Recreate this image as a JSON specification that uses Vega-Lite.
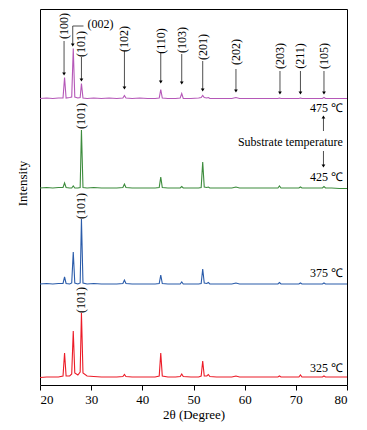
{
  "$schema": "https://vega.github.io/schema/vega-lite/v6.json",
  "width": 307,
  "height": 376,
  "autosize": "none",
  "padding": {"left": 40, "top": 9, "right": 20, "bottom": 45},
  "background": "white",
  "config": {
    "view": {"stroke": "black", "strokeWidth": 1},
    "font": "Liberation Serif"
  },
  "datasets": {
    "xrd": [
      {"s":"475","x":20,"y":286.5},{"s":"475","x":21.3,"y":287},{"s":"475","x":22.5,"y":286.5},{"s":"475","x":23.6,"y":287},{"s":"475","x":24.5,"y":287},{"s":"475","x":24.8,"y":307.5},{"s":"475","x":25.1,"y":287},{"s":"475","x":25.8,"y":287.5},{"s":"475","x":26.2,"y":288},{"s":"475","x":26.5,"y":336.5},{"s":"475","x":26.8,"y":288},{"s":"475","x":27.4,"y":287},{"s":"475","x":27.85,"y":287.5},{"s":"475","x":28.1,"y":301.5},{"s":"475","x":28.4,"y":287},{"s":"475","x":29.2,"y":286.5},{"s":"475","x":30.5,"y":287},{"s":"475","x":32,"y":286.5},{"s":"475","x":33.5,"y":287},{"s":"475","x":35,"y":286.5},{"s":"475","x":36.2,"y":287},{"s":"475","x":36.5,"y":289.5},{"s":"475","x":36.8,"y":287},{"s":"475","x":38,"y":286.5},{"s":"475","x":39.5,"y":287},{"s":"475","x":41,"y":286.5},{"s":"475","x":42.5,"y":286.5},{"s":"475","x":43.3,"y":287},{"s":"475","x":43.6,"y":295.5},{"s":"475","x":43.9,"y":287},{"s":"475","x":45,"y":286.5},{"s":"475","x":46.5,"y":286.5},{"s":"475","x":47.4,"y":287},{"s":"475","x":47.7,"y":291.5},{"s":"475","x":48,"y":286.5},{"s":"475","x":49.5,"y":286.5},{"s":"475","x":51,"y":287},{"s":"475","x":51.5,"y":287.5},{"s":"475","x":51.8,"y":289.5},{"s":"475","x":52.1,"y":287.5},{"s":"475","x":52.6,"y":287},{"s":"475","x":52.9,"y":287.5},{"s":"475","x":53.2,"y":286.5},{"s":"475","x":54.5,"y":286.5},{"s":"475","x":56,"y":286.5},{"s":"475","x":57.5,"y":286.5},{"s":"475","x":58.3,"y":287.5},{"s":"475","x":59,"y":286.5},{"s":"475","x":60.5,"y":286.5},{"s":"475","x":62,"y":286.5},{"s":"475","x":63.5,"y":286.5},{"s":"475","x":65,"y":286.5},{"s":"475","x":66.5,"y":286.5},{"s":"475","x":66.8,"y":287},{"s":"475","x":67.1,"y":286.5},{"s":"475","x":68.5,"y":286.5},{"s":"475","x":70,"y":286.5},{"s":"475","x":70.6,"y":286.5},{"s":"475","x":70.9,"y":287},{"s":"475","x":71.2,"y":286.5},{"s":"475","x":72.5,"y":286.5},{"s":"475","x":74,"y":286.5},{"s":"475","x":75.2,"y":286.5},{"s":"475","x":75.5,"y":287.5},{"s":"475","x":75.8,"y":286.5},{"s":"475","x":77,"y":286.5},{"s":"475","x":78.5,"y":286.5},{"s":"475","x":80,"y":286.5},

      {"s":"425","x":20,"y":197},{"s":"425","x":21.3,"y":197.5},{"s":"425","x":22.5,"y":197},{"s":"425","x":23.6,"y":197.5},{"s":"425","x":24.5,"y":197.5},{"s":"425","x":24.8,"y":202},{"s":"425","x":25.1,"y":197.5},{"s":"425","x":25.8,"y":197},{"s":"425","x":26.2,"y":197},{"s":"425","x":26.5,"y":199},{"s":"425","x":26.8,"y":197},{"s":"425","x":27.4,"y":197},{"s":"425","x":27.85,"y":197.5},{"s":"425","x":28.1,"y":255},{"s":"425","x":28.4,"y":197.5},{"s":"425","x":29.2,"y":197},{"s":"425","x":30.5,"y":197.5},{"s":"425","x":32,"y":197},{"s":"425","x":33.5,"y":197},{"s":"425","x":35,"y":197},{"s":"425","x":36.2,"y":197.5},{"s":"425","x":36.5,"y":201},{"s":"425","x":36.8,"y":197.5},{"s":"425","x":38,"y":197},{"s":"425","x":39.5,"y":197},{"s":"425","x":41,"y":197},{"s":"425","x":42.5,"y":197},{"s":"425","x":43.3,"y":197.5},{"s":"425","x":43.6,"y":208},{"s":"425","x":43.9,"y":197.5},{"s":"425","x":45,"y":197},{"s":"425","x":46.5,"y":197},{"s":"425","x":47.4,"y":197},{"s":"425","x":47.7,"y":198.5},{"s":"425","x":48,"y":197},{"s":"425","x":49.5,"y":197},{"s":"425","x":51,"y":197},{"s":"425","x":51.5,"y":197.5},{"s":"425","x":51.8,"y":223},{"s":"425","x":52.1,"y":198},{"s":"425","x":52.6,"y":197.5},{"s":"425","x":52.9,"y":198},{"s":"425","x":53.2,"y":197},{"s":"425","x":54.5,"y":197},{"s":"425","x":56,"y":197},{"s":"425","x":57.5,"y":197},{"s":"425","x":58.3,"y":198},{"s":"425","x":59,"y":197},{"s":"425","x":60.5,"y":197},{"s":"425","x":62,"y":197},{"s":"425","x":63.5,"y":197},{"s":"425","x":65,"y":197},{"s":"425","x":66.5,"y":197},{"s":"425","x":66.8,"y":199},{"s":"425","x":67.1,"y":197},{"s":"425","x":68.5,"y":197},{"s":"425","x":70,"y":197},{"s":"425","x":70.6,"y":197},{"s":"425","x":70.9,"y":198},{"s":"425","x":71.2,"y":197},{"s":"425","x":72.5,"y":197},{"s":"425","x":74,"y":197},{"s":"425","x":75.2,"y":197},{"s":"425","x":75.5,"y":198.5},{"s":"425","x":75.8,"y":197},{"s":"425","x":77,"y":197},{"s":"425","x":78.5,"y":196.5},{"s":"425","x":80,"y":196.5},

      {"s":"375","x":20,"y":101},{"s":"375","x":21.3,"y":101.5},{"s":"375","x":22.5,"y":101},{"s":"375","x":23.6,"y":101.5},{"s":"375","x":24.5,"y":101.5},{"s":"375","x":24.8,"y":108},{"s":"375","x":25.1,"y":101.5},{"s":"375","x":25.8,"y":101},{"s":"375","x":26.2,"y":102},{"s":"375","x":26.5,"y":133},{"s":"375","x":26.8,"y":102},{"s":"375","x":27.4,"y":101},{"s":"375","x":27.85,"y":102},{"s":"375","x":28.1,"y":166},{"s":"375","x":28.4,"y":102},{"s":"375","x":29.2,"y":101},{"s":"375","x":30.5,"y":101.5},{"s":"375","x":32,"y":101},{"s":"375","x":33.5,"y":101},{"s":"375","x":35,"y":101},{"s":"375","x":36.2,"y":101.5},{"s":"375","x":36.5,"y":105},{"s":"375","x":36.8,"y":101.5},{"s":"375","x":38,"y":101},{"s":"375","x":39.5,"y":101},{"s":"375","x":41,"y":101},{"s":"375","x":42.5,"y":101},{"s":"375","x":43.3,"y":101.5},{"s":"375","x":43.6,"y":110},{"s":"375","x":43.9,"y":101.5},{"s":"375","x":45,"y":101},{"s":"375","x":46.5,"y":101},{"s":"375","x":47.4,"y":101},{"s":"375","x":47.7,"y":103},{"s":"375","x":48,"y":101},{"s":"375","x":49.5,"y":101},{"s":"375","x":51,"y":101},{"s":"375","x":51.5,"y":101.5},{"s":"375","x":51.8,"y":116},{"s":"375","x":52.1,"y":102},{"s":"375","x":52.6,"y":101.5},{"s":"375","x":52.9,"y":102.5},{"s":"375","x":53.2,"y":101},{"s":"375","x":54.5,"y":101},{"s":"375","x":56,"y":101},{"s":"375","x":57.5,"y":101},{"s":"375","x":58.3,"y":102},{"s":"375","x":59,"y":101},{"s":"375","x":60.5,"y":101},{"s":"375","x":62,"y":101},{"s":"375","x":63.5,"y":101},{"s":"375","x":65,"y":101},{"s":"375","x":66.5,"y":101},{"s":"375","x":66.8,"y":102.5},{"s":"375","x":67.1,"y":101},{"s":"375","x":68.5,"y":101},{"s":"375","x":70,"y":101},{"s":"375","x":70.6,"y":101},{"s":"375","x":70.9,"y":102},{"s":"375","x":71.2,"y":101},{"s":"375","x":72.5,"y":101},{"s":"375","x":74,"y":101},{"s":"375","x":75.2,"y":101},{"s":"375","x":75.5,"y":102},{"s":"375","x":75.8,"y":101},{"s":"375","x":77,"y":101},{"s":"375","x":78.5,"y":101},{"s":"375","x":80,"y":101},

      {"s":"325","x":20,"y":7.5},{"s":"325","x":21.3,"y":8},{"s":"325","x":22.5,"y":8},{"s":"325","x":23.6,"y":8},{"s":"325","x":24.5,"y":9},{"s":"325","x":24.8,"y":32},{"s":"325","x":25.1,"y":9},{"s":"325","x":25.8,"y":9},{"s":"325","x":26.2,"y":11},{"s":"325","x":26.5,"y":54},{"s":"325","x":26.8,"y":12},{"s":"325","x":27.4,"y":10},{"s":"325","x":27.85,"y":13},{"s":"325","x":28.1,"y":72},{"s":"325","x":28.4,"y":12},{"s":"325","x":29.2,"y":9},{"s":"325","x":30.5,"y":8.5},{"s":"325","x":32,"y":8},{"s":"325","x":33.5,"y":8},{"s":"325","x":35,"y":8},{"s":"325","x":36.2,"y":8.5},{"s":"325","x":36.5,"y":10.5},{"s":"325","x":36.8,"y":8.5},{"s":"325","x":38,"y":8},{"s":"325","x":39.5,"y":8},{"s":"325","x":41,"y":8},{"s":"325","x":42.5,"y":8},{"s":"325","x":43.3,"y":9},{"s":"325","x":43.6,"y":32},{"s":"325","x":43.9,"y":9},{"s":"325","x":45,"y":8},{"s":"325","x":46.5,"y":8},{"s":"325","x":47.4,"y":8.5},{"s":"325","x":47.7,"y":11},{"s":"325","x":48,"y":8.5},{"s":"325","x":49.5,"y":8},{"s":"325","x":51,"y":8},{"s":"325","x":51.5,"y":9},{"s":"325","x":51.8,"y":24},{"s":"325","x":52.1,"y":9},{"s":"325","x":52.6,"y":9},{"s":"325","x":52.9,"y":10.5},{"s":"325","x":53.2,"y":8.5},{"s":"325","x":54.5,"y":8},{"s":"325","x":56,"y":8},{"s":"325","x":57.5,"y":8},{"s":"325","x":58.3,"y":9},{"s":"325","x":59,"y":8},{"s":"325","x":60.5,"y":8},{"s":"325","x":62,"y":8},{"s":"325","x":63.5,"y":8},{"s":"325","x":65,"y":8},{"s":"325","x":66.5,"y":8},{"s":"325","x":66.8,"y":9},{"s":"325","x":67.1,"y":8},{"s":"325","x":68.5,"y":8},{"s":"325","x":70,"y":8},{"s":"325","x":70.6,"y":8},{"s":"325","x":70.9,"y":10},{"s":"325","x":71.2,"y":8},{"s":"325","x":72.5,"y":8},{"s":"325","x":74,"y":8},{"s":"325","x":75.2,"y":8},{"s":"325","x":75.5,"y":9},{"s":"325","x":75.8,"y":8},{"s":"325","x":77,"y":8},{"s":"325","x":78.5,"y":8},{"s":"325","x":80,"y":8}
    ],
    "arrows": [
      {"x":24.7,"x2":24.7,"y":344,"y2":311,"dir":"down"},
      {"x":28.1,"x2":28.1,"y":328,"y2":305,"dir":"down"},
      {"x":26.4,"x2":26.4,"y":359,"y2":340,"dir":"down"},
      {"x":36.5,"x2":36.5,"y":334,"y2":297,"dir":"down"},
      {"x":43.6,"x2":43.6,"y":333,"y2":303,"dir":"down"},
      {"x":47.7,"x2":47.7,"y":331,"y2":302,"dir":"down"},
      {"x":51.8,"x2":51.8,"y":324,"y2":295,"dir":"down"},
      {"x":58.3,"x2":58.3,"y":316,"y2":294,"dir":"down"},
      {"x":66.9,"x2":66.9,"y":314,"y2":292,"dir":"down"},
      {"x":70.9,"x2":70.9,"y":314,"y2":292,"dir":"down"},
      {"x":75.5,"x2":75.5,"y":314,"y2":292,"dir":"down"},
      {"x":75.4,"x2":75.4,"y":254,"y2":268,"dir":"up"},
      {"x":75.4,"x2":75.4,"y":234,"y2":219,"dir":"down"}
    ],
    "bracket": [
      {"x":26.4,"x2":28.5,"y":359,"y2":359}
    ],
    "vlabels": [
      {"t":"(100)","x":24.7,"y":359},
      {"t":"(101)","x":28.1,"y":341},
      {"t":"(102)","x":36.5,"y":346},
      {"t":"(110)","x":43.6,"y":344},
      {"t":"(103)","x":47.7,"y":345},
      {"t":"(201)","x":51.8,"y":338},
      {"t":"(202)","x":58.3,"y":333},
      {"t":"(203)","x":66.9,"y":329},
      {"t":"(211)","x":70.9,"y":329},
      {"t":"(105)","x":75.5,"y":329},
      {"t":"(101)","x":28.1,"y":269},
      {"t":"(101)","x":28.1,"y":179},
      {"t":"(101)","x":28.1,"y":85}
    ],
    "leftlabels": [
      {"t":"(002)","x":29.3,"y":361}
    ],
    "rightlabels": [
      {"t":"475 ℃","x":79.2,"y":277},
      {"t":"Substrate temperature","x":79.2,"y":243},
      {"t":"425 ℃","x":79.2,"y":208},
      {"t":"375 ℃","x":79.2,"y":112},
      {"t":"325 ℃","x":79.2,"y":17}
    ]
  },
  "layer": [
    {
      "data": {"name": "xrd"},
      "mark": {"type": "line", "strokeWidth": 1.1, "interpolate": "linear"},
      "encoding": {
        "x": {
          "field": "x", "type": "quantitative",
          "scale": {"domain": [20, 80], "nice": false, "zero": false},
          "axis": {
            "title": "2θ (Degree)",
            "values": [20,25,30,35,40,45,50,55,60,65,70,75,80],
            "labelExpr": "datum.value % 10 === 0 ? datum.label : ''",
            "grid": false, "domain": false,
            "tickColor": "black",
            "tickSize": {"condition": {"test": "datum.value % 10 === 0", "value": 5}, "value": 3},
            "labelFont": "Liberation Serif", "labelFontSize": 13, "labelColor": "black",
            "labelPadding": 3,
            "titleFont": "Liberation Serif", "titleFontSize": 13, "titleFontWeight": "normal", "titleColor": "black",
            "titlePadding": 2
          }
        },
        "y": {
          "field": "y", "type": "quantitative",
          "scale": {"domain": [0, 376], "nice": false, "zero": false},
          "axis": {
            "title": "Intensity", "labels": false, "ticks": false, "domain": false, "grid": false,
            "titleFont": "Liberation Serif", "titleFontSize": 13, "titleFontWeight": "normal", "titleColor": "black",
            "titlePadding": 11, "titleY": 174
          }
        },
        "color": {
          "field": "s", "type": "nominal", "legend": null,
          "scale": {"domain": ["475","425","375","325"], "range": ["#b558b8","#3d8c3d","#2b5caa","#ec1c28"]}
        },
        "order": {"field": "x", "type": "quantitative"}
      }
    },
    {
      "data": {"name": "arrows"},
      "mark": {"type": "rule", "color": "#222", "strokeWidth": 0.8},
      "encoding": {
        "x": {"field": "x", "type": "quantitative"},
        "x2": {"field": "x2"},
        "y": {"field": "y", "type": "quantitative"},
        "y2": {"field": "y2"}
      }
    },
    {
      "data": {"name": "bracket"},
      "mark": {"type": "rule", "color": "#222", "strokeWidth": 0.8},
      "encoding": {
        "x": {"field": "x", "type": "quantitative"},
        "x2": {"field": "x2"},
        "y": {"field": "y", "type": "quantitative"},
        "y2": {"field": "y2"}
      }
    },
    {
      "data": {"name": "arrows"},
      "mark": {"type": "point", "filled": true, "color": "black", "size": 14, "opacity": 1},
      "encoding": {
        "x": {"field": "x", "type": "quantitative"},
        "y": {"field": "y2", "type": "quantitative"},
        "shape": {"condition": {"test": "datum.dir === 'up'", "value": "triangle-up"}, "value": "triangle-down"}
      }
    },
    {
      "data": {"name": "vlabels"},
      "mark": {"type": "text", "angle": 270, "align": "center", "baseline": "middle", "font": "Liberation Serif", "fontSize": 12, "color": "black"},
      "encoding": {
        "x": {"field": "x", "type": "quantitative"},
        "y": {"field": "y", "type": "quantitative"},
        "text": {"field": "t"}
      }
    },
    {
      "data": {"name": "leftlabels"},
      "mark": {"type": "text", "align": "left", "baseline": "middle", "font": "Liberation Serif", "fontSize": 12, "color": "black"},
      "encoding": {
        "x": {"field": "x", "type": "quantitative"},
        "y": {"field": "y", "type": "quantitative"},
        "text": {"field": "t"}
      }
    },
    {
      "data": {"name": "rightlabels"},
      "mark": {"type": "text", "align": "right", "baseline": "middle", "font": "Liberation Serif", "fontSize": 12, "color": "black"},
      "encoding": {
        "x": {"field": "x", "type": "quantitative"},
        "y": {"field": "y", "type": "quantitative"},
        "text": {"field": "t"}
      }
    }
  ]
}
